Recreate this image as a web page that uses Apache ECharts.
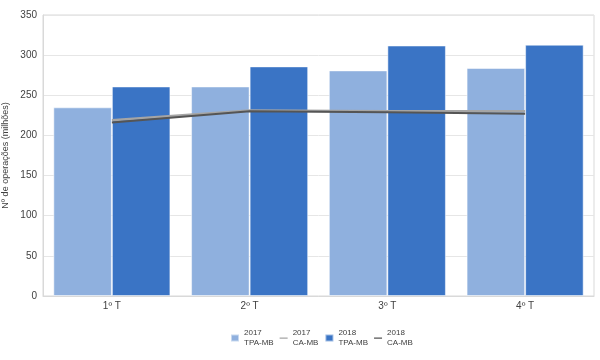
<!DOCTYPE html>
<html><head><meta charset="utf-8">
<script src="https://cdn.jsdelivr.net/npm/echarts@6/dist/echarts.min.js"></script>
<style>html,body{margin:0;padding:0;background:#fff}#c{width:600px;height:360px}</style>
</head><body><div id="c"></div>
<script>
const categories = ['1º T', '2º T', '3º T', '4º T'];
const tpa2017 = [235, 261, 281, 284];
const tpa2018 = [261, 286, 312, 313];
const ca2017 = [219, 231, 230, 230];
const ca2018 = [216, 230, 229, 227];
const yTicks = [0, 50, 100, 150, 200, 250, 300, 350];

const chart = echarts.init(document.getElementById('c'));
const font = 'Liberation Sans, Arial, sans-serif';
const lineIcon = 'path://M0,0L0.01,0Z M0,3H8V4.3H0Z M0,7L0.01,7Z';
chart.setOption({
  animation: false,
  textStyle: { fontFamily: font },
  grid: { left: 43, right: 6, top: 15, bottom: 64, show: true, borderColor: '#d9d9d9', borderWidth: 1, outerBoundsMode: 'none', containLabel: false },
  xAxis: {
    type: 'category', data: categories,
    axisLine: { lineStyle: { color: '#d9d9d9' } },
    axisTick: { show: false },
    axisLabel: { color: '#404040', fontSize: 10, margin: 5 }
  },
  yAxis: {
    type: 'value', min: yTicks[0], max: yTicks[yTicks.length - 1], interval: 50,
    name: 'Nº de operações (milhões)', nameLocation: 'middle', nameGap: 33, nameMoveOverlap: false,
    nameTextStyle: { color: '#404040', fontSize: 9 },
    axisLine: { show: true, lineStyle: { color: '#d9d9d9' } },
    axisTick: { show: false },
    splitLine: { lineStyle: { color: '#e6e6e6' } },
    axisLabel: { color: '#404040', fontSize: 10, margin: 6 }
  },
  legend: {
    bottom: 7, left: 225, itemGap: 6, itemWidth: 8, itemHeight: 7,
    textStyle: { color: '#404040', fontSize: 8, lineHeight: 10 },
    data: [
      { name: '2017\nTPA-MB', icon: 'rect' },
      { name: '2017\nCA-MB', icon: lineIcon },
      { name: '2018\nTPA-MB', icon: 'rect' },
      { name: '2018\nCA-MB', icon: lineIcon }
    ]
  },
  series: [
    { name: '2017\nTPA-MB', type: 'bar', data: tpa2017, barGap: '0%', barCategoryGap: '15%',
      itemStyle: { color: '#8fb0de', borderColor: 'rgba(255,255,255,0.5)', borderWidth: 1 } },
    { name: '2018\nTPA-MB', type: 'bar', data: tpa2018,
      itemStyle: { color: '#3a74c5', borderColor: 'rgba(255,255,255,0.5)', borderWidth: 1 } },
    { name: '2017\nCA-MB', type: 'line', data: ca2017, symbol: 'none',
      lineStyle: { color: '#a5a5a5', width: 2.5 }, itemStyle: { color: '#a5a5a5' } },
    { name: '2018\nCA-MB', type: 'line', data: ca2018, symbol: 'none',
      lineStyle: { color: '#555555', width: 2 }, itemStyle: { color: '#555555' } }
  ]
});
</script></body></html>
